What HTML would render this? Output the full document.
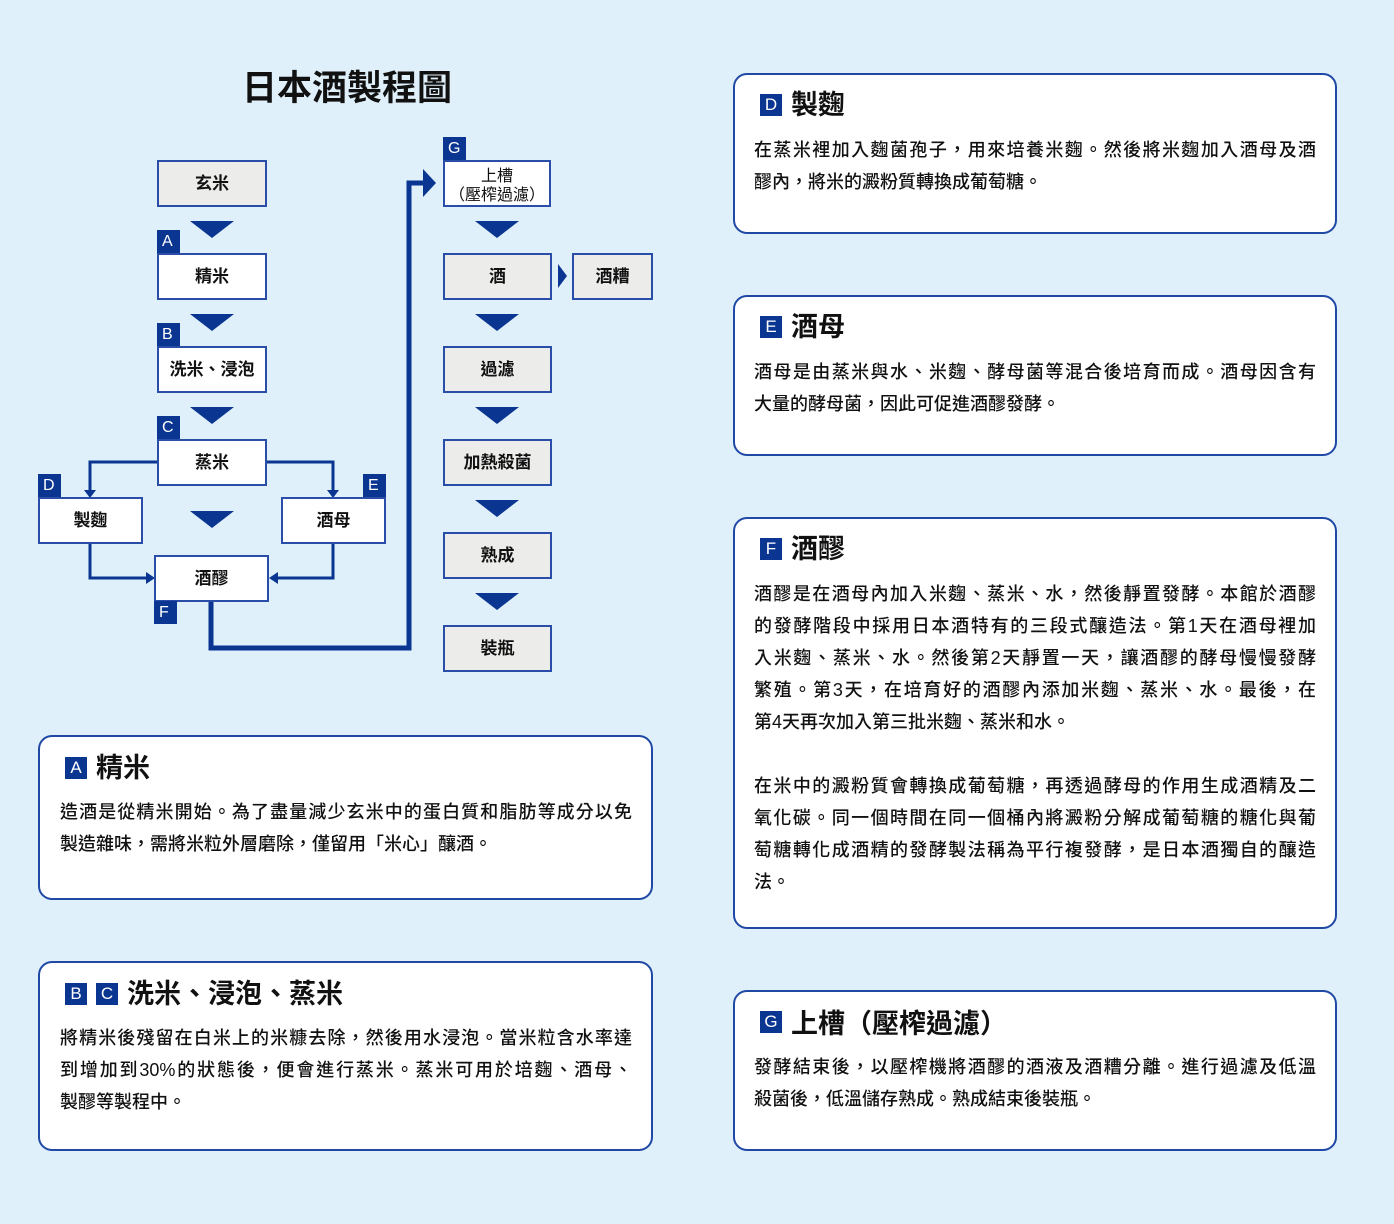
<!DOCTYPE html>
<html><head><meta charset="utf-8"><style>
*{margin:0;padding:0;box-sizing:border-box}
body{width:1394px;height:1224px;background:#dff0fa;position:relative;overflow:hidden;font-family:"Liberation Sans","Noto Sans CJK TC",sans-serif;color:#111}
.a{position:absolute}
.box{position:absolute;border:2px solid #2a4ea8;background:#fff;display:flex;align-items:center;justify-content:center;font-size:17px;font-weight:bold;text-align:center;line-height:19px}
.g{background:#ececea}
.bd{position:absolute;width:23px;height:23px;background:#0a3590;color:#fff;font-size:16px;line-height:23px;padding-left:5px}
.tri{position:absolute;width:0;height:0;border-left:22px solid transparent;border-right:22px solid transparent;border-top:17px solid #0a3590}
.card{position:absolute;border:2px solid #2049a6;border-radius:14px;background:#fff}
.h{position:absolute;font-size:27px;font-weight:bold;line-height:34px;white-space:nowrap;display:flex;align-items:center}
.h .b{display:inline-block;width:22px;height:22px;background:#0a3590;color:#fff;font-size:17px;line-height:22px;text-align:center;font-weight:normal;margin-right:9px;font-family:"Liberation Sans",sans-serif}
.cjk{font-family:"Noto Sans CJK TC",sans-serif}
.t{position:absolute;font-size:18px;line-height:32px;font-weight:500;white-space:nowrap}
.t div{text-align:justify;text-align-last:justify}
.t div.l{text-align-last:left}
</style></head><body>
<div class="a" style="left:242px;top:68px;font-size:35px;font-weight:bold;line-height:42px">日本酒製程圖</div>

<svg class="a" style="left:0;top:0" width="700" height="700">
<g fill="none" stroke="#0a3590" stroke-width="3">
<polyline points="157,462 90,462 90,492"/>
<polyline points="267,462 333,462 333,492"/>
<polyline points="90,544 90,578 149,578"/>
<polyline points="333,544 333,578 274,578"/>
</g>
<g fill="#0a3590">
<polygon points="84,490 96,490 90,498"/>
<polygon points="327,490 339,490 333,498"/>
<polygon points="146,572 146,584 155,578"/>
<polygon points="278,572 278,584 269,578"/>
</g>
<polyline points="211,602 211,648 409,648 409,183 425,183" fill="none" stroke="#0a3590" stroke-width="5"/>
<polygon points="423,169 423,197 436,183" fill="#0a3590"/>
<polygon points="558,264 558,288 567,276" fill="#0a3590"/>
</svg>

<div class="box g" style="left:157px;top:160px;width:110px;height:47px">玄米</div>
<div class="tri" style="left:190px;top:221px"></div>
<div class="bd" style="left:157px;top:230px">A</div>
<div class="box" style="left:157px;top:253px;width:110px;height:47px">精米</div>
<div class="tri" style="left:190px;top:314px"></div>
<div class="bd" style="left:157px;top:323px">B</div>
<div class="box" style="left:157px;top:346px;width:110px;height:47px">洗米、浸泡</div>
<div class="tri" style="left:190px;top:407px"></div>
<div class="bd" style="left:157px;top:416px">C</div>
<div class="box" style="left:157px;top:439px;width:110px;height:47px">蒸米</div>
<div class="bd" style="left:38px;top:474px">D</div>
<div class="box" style="left:38px;top:497px;width:105px;height:47px">製麴</div>
<div class="bd" style="left:363px;top:474px">E</div>
<div class="box" style="left:281px;top:497px;width:105px;height:47px">酒母</div>
<div class="tri" style="left:190px;top:511px"></div>
<div class="box" style="left:154px;top:555px;width:115px;height:47px">酒醪</div>
<div class="bd" style="left:154px;top:601px">F</div>

<div class="bd" style="left:443px;top:137px">G</div>
<div class="box cjk" style="left:443px;top:160px;width:108px;height:47px;font-weight:normal;font-size:16px;line-height:19px">上槽<br>（壓榨過濾）</div>
<div class="tri" style="left:475px;top:221px"></div>
<div class="box g" style="left:443px;top:253px;width:109px;height:47px">酒</div>
<div class="box g" style="left:572px;top:253px;width:81px;height:47px">酒糟</div>
<div class="tri" style="left:475px;top:314px"></div>
<div class="box g" style="left:443px;top:346px;width:109px;height:47px">過濾</div>
<div class="tri" style="left:475px;top:407px"></div>
<div class="box g" style="left:443px;top:439px;width:109px;height:47px">加熱殺菌</div>
<div class="tri" style="left:475px;top:500px"></div>
<div class="box g" style="left:443px;top:532px;width:109px;height:47px">熟成</div>
<div class="tri" style="left:475px;top:593px"></div>
<div class="box g" style="left:443px;top:625px;width:109px;height:47px">裝瓶</div>

<div class="card" style="left:733px;top:73px;width:604px;height:161px"></div>
<div class="h" style="left:760px;top:88px"><span class="b">D</span>製麴</div>
<div class="t" style="left:754px;top:134px;width:562px"><div>在蒸米裡加入麴菌孢子，用來培養米麴。然後將米麴加入酒母及酒</div><div class="l">醪內，將米的澱粉質轉換成葡萄糖。</div></div>

<div class="card" style="left:733px;top:295px;width:604px;height:161px"></div>
<div class="h" style="left:760px;top:310px"><span class="b">E</span>酒母</div>
<div class="t" style="left:754px;top:356px;width:562px"><div>酒母是由蒸米與水、米麴、酵母菌等混合後培育而成。酒母因含有</div><div class="l">大量的酵母菌，因此可促進酒醪發酵。</div></div>

<div class="card" style="left:733px;top:517px;width:604px;height:412px"></div>
<div class="h" style="left:760px;top:532px"><span class="b">F</span>酒醪</div>
<div class="t" style="left:754px;top:578px;width:562px"><div>酒醪是在酒母內加入米麴、蒸米、水，然後靜置發酵。本館於酒醪</div><div>的發酵階段中採用日本酒特有的三段式釀造法。第1天在酒母裡加</div><div>入米麴、蒸米、水。然後第2天靜置一天，讓酒醪的酵母慢慢發酵</div><div>繁殖。第3天，在培育好的酒醪內添加米麴、蒸米、水。最後，在</div><div class="l">第4天再次加入第三批米麴、蒸米和水。</div><div class="l">&nbsp;</div><div>在米中的澱粉質會轉換成葡萄糖，再透過酵母的作用生成酒精及二</div><div>氧化碳。同一個時間在同一個桶內將澱粉分解成葡萄糖的糖化與葡</div><div>萄糖轉化成酒精的發酵製法稱為平行複發酵，是日本酒獨自的釀造</div><div class="l">法。</div></div>

<div class="card" style="left:733px;top:990px;width:604px;height:161px"></div>
<div class="h" style="left:760px;top:1005px"><span class="b">G</span><span class="cjk">上槽（壓榨過濾）</span></div>
<div class="t" style="left:754px;top:1051px;width:562px"><div>發酵結束後，以壓榨機將酒醪的酒液及酒糟分離。進行過濾及低溫</div><div class="l">殺菌後，低溫儲存熟成。熟成結束後裝瓶。</div></div>

<div class="card" style="left:38px;top:735px;width:615px;height:165px"></div>
<div class="h" style="left:65px;top:751px"><span class="b">A</span>精米</div>
<div class="t" style="left:60px;top:796px;width:572px"><div>造酒是從精米開始。為了盡量減少玄米中的蛋白質和脂肪等成分以免</div><div class="l">製造雜味，需將米粒外層磨除，僅留用「米心」釀酒。</div></div>

<div class="card" style="left:38px;top:961px;width:615px;height:190px"></div>
<div class="h" style="left:65px;top:977px"><span class="b">B</span><span class="b">C</span>洗米、浸泡、蒸米</div>
<div class="t" style="left:60px;top:1022px;width:572px"><div>將精米後殘留在白米上的米糠去除，然後用水浸泡。當米粒含水率達</div><div>到增加到30%的狀態後，便會進行蒸米。蒸米可用於培麴、酒母、</div><div class="l">製醪等製程中。</div></div>
</body></html>
